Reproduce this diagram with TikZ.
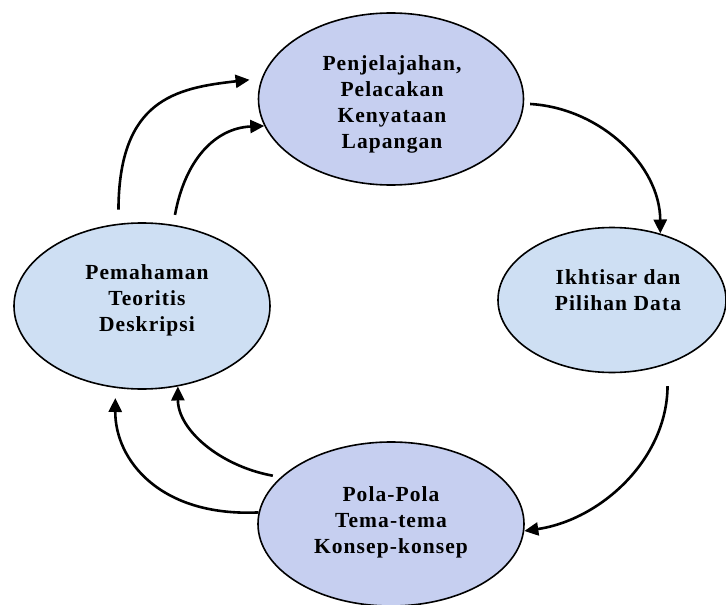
\documentclass[tikz,border=0pt]{standalone}
\usepackage{fontspec}
\newfontfamily\diafont[LetterSpace=5]{Liberation Serif}
\usetikzlibrary{arrows.meta,shapes.geometric}
\definecolor{blobA}{RGB}{198,207,240}
\definecolor{blobB}{RGB}{206,223,243}
\begin{document}
\begin{tikzpicture}[x=1pt, y=-1pt,
  blob/.style={draw, ellipse, line width=1.6pt, inner sep=0pt},
  txt/.style={align=center, font=\diafont\bfseries\fontsize{21.5}{26}\selectfont},
  flow/.style={line width=2.6pt, -{Triangle[length=14pt,width=13pt]}}]
\useasboundingbox (0,0) rectangle (726,605);
% stages
\node[blob, fill=blobA, minimum width=265, minimum height=172] (penj) at (391,99) {};
\node[blob, fill=blobB, minimum width=228, minimum height=145] (ikh) at (612,300) {};
\node[blob, fill=blobA, minimum width=266, minimum height=164] (pola) at (391,524) {};
\node[blob, fill=blobB, minimum width=256, minimum height=166] (pem) at (142,306) {};
\node[txt] (penj-t) at (392,104) {Penjelajahan,\\Pelacakan\\Kenyataan\\Lapangan};
\node[txt] (ikh-t) at (618,290) {Ikhtisar dan\\Pilihan Data};
\node[txt] (pola-t) at (391,522) {Pola-Pola\\Tema-tema\\Konsep-konsep};
\node[txt] (pem-t) at (147,300) {Pemahaman\\Teoritis\\Deskripsi};
% cycle
\draw[flow, shorten <=6pt] (penj.-2) .. controls (600,108) and (660,165) .. (ikh.54);
\draw[flow, shorten <=22pt] (ikh.-49) .. controls (667,460) and (600,520) .. (pola.-3);
\draw[flow, shorten >=10pt] (pola.175) .. controls (160,517) and (115,460) .. (pem.252);
\draw[flow, shorten <=8pt] (pola.157) .. controls (220,466) and (178,430) .. (pem.294);
\draw[flow, shorten <=14pt, shorten >=12pt] (pem.106) .. controls (119,100) and (175,88) .. (penj.171);
\draw[flow, shorten <=10pt] (pem.69) .. controls (185,160) and (215,128) .. (penj.192);
\end{tikzpicture}
\end{document}
